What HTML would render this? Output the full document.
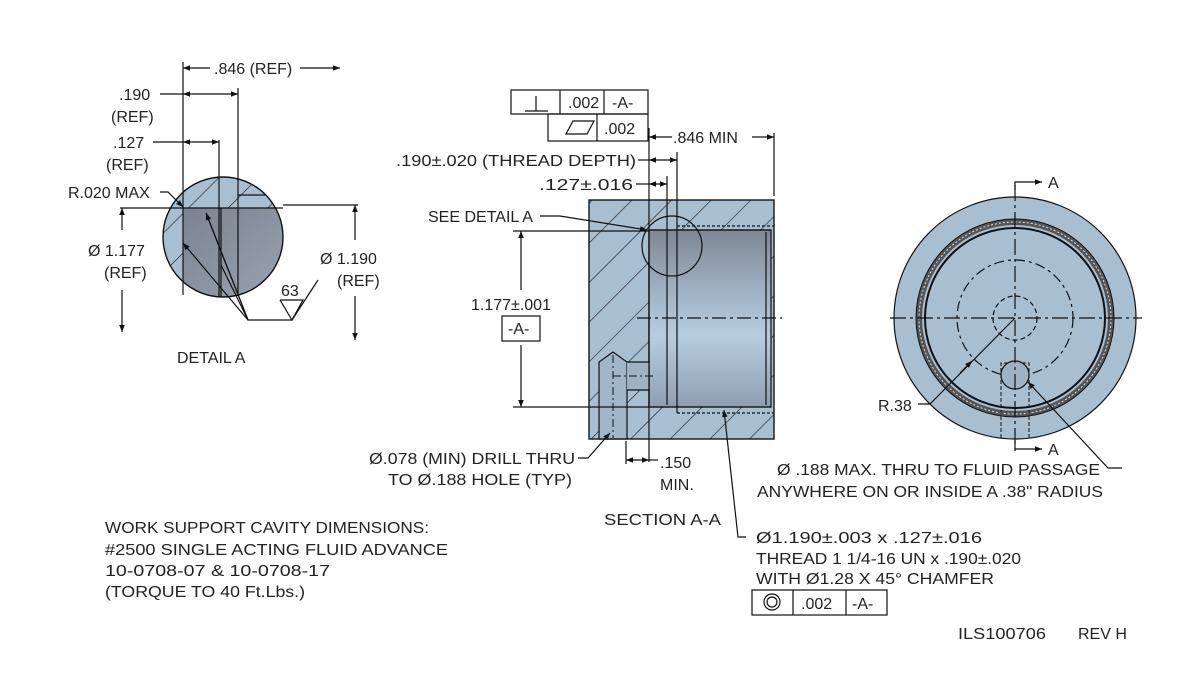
<!DOCTYPE html>
<html><head><meta charset="utf-8"><style>
html,body{margin:0;padding:0;background:#fff;}
svg{display:block;}
text{font-family:"Liberation Sans",sans-serif;font-size:16px;fill:#222;}
</style></head><body>
<svg width="1200" height="694" viewBox="0 0 1200 694" xmlns="http://www.w3.org/2000/svg">
<defs>
<marker id="ar" viewBox="0 0 10 10" refX="10" refY="5" markerWidth="9" markerHeight="7" orient="auto-start-reverse" markerUnits="userSpaceOnUse"><path d="M0,1 L10,5 L0,9 Z" fill="#111"/></marker>
<linearGradient id="bore" x1="0" y1="0" x2="0" y2="1">
<stop offset="0" stop-color="#7f8794"/><stop offset="0.35" stop-color="#a0b2c4"/><stop offset="0.6" stop-color="#b8cde0"/><stop offset="1" stop-color="#8e9eb0"/></linearGradient>
<linearGradient id="gray" x1="0" y1="0" x2="1" y2="1">
<stop offset="0" stop-color="#7c8290"/><stop offset="1" stop-color="#9aa6b4"/></linearGradient>
<pattern id="hatch" patternUnits="userSpaceOnUse" width="28" height="28" patternTransform="rotate(45)">
<rect width="28" height="28" fill="#a8bfd2"/><line x1="0" y1="0" x2="0" y2="28" stroke="#222" stroke-width="1.3"/></pattern>
<clipPath id="dc"><circle cx="223" cy="237" r="60"/></clipPath>
</defs>
<g stroke="#111" fill="none" stroke-width="1.2">

<!-- DETAIL A -->
<g clip-path="url(#dc)">
<rect x="160" y="175" width="130" height="125" fill="url(#hatch)" stroke="none"/>
<rect x="183" y="208" width="110" height="95" fill="url(#gray)" stroke="none"/>
</g>
<circle cx="223" cy="237" r="60" stroke-width="1.4"/>
<line x1="183" y1="208" x2="283" y2="208"/>
<line x1="183" y1="62" x2="183" y2="295"/>
<line x1="219" y1="140" x2="219" y2="297"/>
<line x1="221" y1="208" x2="221" y2="297"/>
<line x1="238" y1="88" x2="238" y2="295"/>
<line x1="238" y1="195" x2="265" y2="195"/>
<line x1="183" y1="68" x2="210" y2="68" marker-start="url(#ar)"/>
<line x1="300" y1="68" x2="340" y2="68" marker-end="url(#ar)"/>
<line x1="160" y1="94" x2="183" y2="94"/>
<line x1="183" y1="94" x2="238" y2="94" marker-start="url(#ar)" marker-end="url(#ar)"/>
<line x1="153" y1="142" x2="183" y2="142"/>
<line x1="183" y1="142" x2="219" y2="142" marker-start="url(#ar)" marker-end="url(#ar)"/>
<polyline points="160,192 168,192 183,207" marker-end="url(#ar)"/>
<line x1="120" y1="208" x2="183" y2="208"/>
<line x1="283" y1="205" x2="358" y2="205"/>
<line x1="122" y1="230" x2="122" y2="208" marker-end="url(#ar)"/>
<line x1="122" y1="290" x2="122" y2="332" marker-end="url(#ar)"/>
<line x1="355" y1="240" x2="355" y2="205" marker-end="url(#ar)"/>
<line x1="355" y1="296" x2="355" y2="340" marker-end="url(#ar)"/>
<polyline points="206,213 248,320 292,320 318,280"/>
<line x1="206" y1="213" x2="206" y2="213" />
<line x1="248" y1="320" x2="183" y2="243" marker-end="url(#ar)"/>
<line x1="248" y1="320" x2="206" y2="213" marker-end="url(#ar)"/>
<line x1="248" y1="320" x2="221" y2="265"/>
<polyline points="280,300 292,320 303,300 280,300"/>

<!-- SECTION -->
<rect x="589" y="200" width="185" height="239" fill="url(#hatch)"/>
<rect x="649" y="230" width="122" height="177" fill="url(#bore)"/>
<line x1="649" y1="230" x2="649" y2="407"/>
<line x1="667" y1="230" x2="667" y2="405"/>
<line x1="677" y1="226" x2="677" y2="413"/>
<line x1="766" y1="232" x2="766" y2="405"/>
<line x1="649" y1="230" x2="771" y2="230"/>
<line x1="649" y1="407" x2="771" y2="407"/>
<line x1="677" y1="226" x2="774" y2="226" stroke-dasharray="3,2"/>
<line x1="677" y1="413" x2="774" y2="413" stroke-dasharray="3,2"/>
<path d="M599,439 L599,362 L613,352 L627,362 L627,439 Z" fill="#a2b6c9"/>
<path d="M627,362 L649,362 L649,390 L627,390 Z" fill="#9fb2c4" stroke="none"/>
<line x1="627" y1="362" x2="649" y2="362"/>
<line x1="627" y1="390" x2="649" y2="390"/>
<line x1="613" y1="355" x2="613" y2="438" stroke-dasharray="8,3,2,3" stroke-width="1"/>
<line x1="613" y1="376" x2="655" y2="376" stroke-dasharray="8,3,2,3" stroke-width="1"/>
<rect x="589" y="200" width="185" height="239"/>
<circle cx="672" cy="246" r="30"/>
<line x1="637" y1="318" x2="782" y2="318" stroke-dasharray="14,4,3,4"/>
<line x1="649" y1="128" x2="649" y2="462"/>
<line x1="667" y1="176" x2="667" y2="230"/>
<line x1="677" y1="152" x2="677" y2="226"/>
<line x1="774" y1="133" x2="774" y2="196"/>
<line x1="649" y1="137" x2="672" y2="137" marker-start="url(#ar)"/>
<line x1="752" y1="137" x2="774" y2="137" marker-end="url(#ar)"/>
<line x1="638" y1="160" x2="649" y2="160"/>
<line x1="649" y1="160" x2="677" y2="160" marker-start="url(#ar)" marker-end="url(#ar)"/>
<line x1="636" y1="184" x2="649" y2="184"/>
<line x1="649" y1="184" x2="667" y2="184" marker-start="url(#ar)" marker-end="url(#ar)"/>
<polyline points="540,216 560,216 647,230" marker-end="url(#ar)"/>
<line x1="513" y1="231" x2="649" y2="231"/>
<line x1="513" y1="407" x2="649" y2="407"/>
<line x1="521" y1="290" x2="521" y2="231" marker-end="url(#ar)"/>
<line x1="521" y1="345" x2="521" y2="407" marker-end="url(#ar)"/>
<rect x="502" y="316" width="38" height="25"/>
<polyline points="578,458 588,458 610,433" marker-end="url(#ar)"/>
<line x1="626" y1="441" x2="626" y2="464"/>
<line x1="626" y1="460" x2="649" y2="460" marker-start="url(#ar)" marker-end="url(#ar)"/>
<line x1="649" y1="460" x2="658" y2="460"/>
<polyline points="746,537 738,537 724,410" marker-end="url(#ar)"/>
<!-- FCF top -->
<rect x="511" y="90" width="137" height="24"/>
<line x1="560" y1="90" x2="560" y2="114"/><line x1="604" y1="90" x2="604" y2="114"/>
<line x1="525" y1="111" x2="548" y2="111"/><line x1="536" y1="96" x2="536" y2="111"/>
<rect x="548" y="114" width="100" height="27"/>
<line x1="597" y1="114" x2="597" y2="141"/>
<polygon points="566,134 587,134 594,121 573,121"/>
<!-- FCF bottom -->
<rect x="752" y="590" width="135" height="25"/>
<line x1="793" y1="590" x2="793" y2="615"/><line x1="846" y1="590" x2="846" y2="615"/>
<circle cx="772" cy="602" r="8"/><circle cx="772" cy="602" r="5"/>

<!-- RIGHT VIEW -->
<circle cx="1015" cy="318" r="121" fill="#a8bfd2"/>
<circle cx="1015" cy="318" r="96" stroke="#555" stroke-width="6"/>
<circle cx="1015" cy="318" r="96" stroke="#ddd" stroke-width="1" stroke-dasharray="2,2"/>
<circle cx="1015" cy="318" r="99" stroke-width="1"/>
<circle cx="1015" cy="318" r="90" stroke-width="2"/>
<circle cx="1015" cy="318" r="58" stroke-dasharray="10,4,3,4"/>
<circle cx="1015" cy="318" r="22" stroke-dasharray="5,3"/>
<path d="M1001,438 L1001,363 L1029,363 L1029,438" stroke-dasharray="4,2" stroke-width="1"/>
<circle cx="1015" cy="375" r="14" fill="#9fb3c6"/>
<line x1="890" y1="318" x2="1142" y2="318" stroke-dasharray="16,4,3,4"/>
<line x1="1015" y1="185" x2="1015" y2="455" stroke-dasharray="16,4,3,4"/>
<polyline points="1015,190 1015,182 1042,182" marker-end="url(#ar)"/>
<polyline points="1015,440 1015,449 1042,449" marker-end="url(#ar)"/>
<polyline points="918,404 930,404 1015,318"/>
<line x1="960" y1="373" x2="972" y2="361" marker-end="url(#ar)"/>
<polyline points="1122,468 1108,468 1028,382" marker-end="url(#ar)"/>
</g>

<g>
<text x="214" y="74">.846 (REF)</text>
<text x="119" y="100">.190</text><text x="111" y="122">(REF)</text>
<text x="113" y="148">.127</text><text x="106" y="170">(REF)</text>
<text x="68" y="198">R.020 MAX</text>
<text x="88" y="256">Ø 1.177</text><text x="104" y="278">(REF)</text>
<text x="320" y="264">Ø 1.190</text><text x="337" y="286">(REF)</text>
<text x="281" y="296">63</text>
<text x="177" y="363">DETAIL A</text>
<text x="568" y="108">.002</text><text x="612" y="108">-A-</text>
<text x="604" y="134">.002</text>
<text x="673" y="143">.846 MIN</text>
<text x="396" y="166" textLength="240" lengthAdjust="spacingAndGlyphs">.190±.020 (THREAD DEPTH)</text>
<text x="539" y="190" textLength="94" lengthAdjust="spacingAndGlyphs">.127±.016</text>
<text x="428" y="222">SEE DETAIL A</text>
<text x="471" y="310">1.177±.001</text>
<text x="508" y="334">-A-</text>
<text x="369" y="464" textLength="206" lengthAdjust="spacingAndGlyphs">Ø.078 (MIN) DRILL THRU</text>
<text x="388" y="485" textLength="184" lengthAdjust="spacingAndGlyphs">TO Ø.188 HOLE (TYP)</text>
<text x="660" y="468">.150</text><text x="660" y="490">MIN.</text>
<text x="604" y="525" textLength="117" lengthAdjust="spacingAndGlyphs">SECTION  A-A</text>
<text x="756" y="543" textLength="226" lengthAdjust="spacingAndGlyphs">Ø1.190±.003 x .127±.016</text>
<text x="756" y="564" textLength="265" lengthAdjust="spacingAndGlyphs">THREAD 1 1/4-16 UN x .190±.020</text>
<text x="756" y="584" textLength="238" lengthAdjust="spacingAndGlyphs">WITH Ø1.28 X 45° CHAMFER</text>
<text x="801" y="609">.002</text><text x="852" y="609">-A-</text>
<text x="1048" y="188">A</text><text x="1048" y="455">A</text>
<text x="878" y="411">R.38</text>
<text x="777" y="475" textLength="323" lengthAdjust="spacingAndGlyphs">Ø .188 MAX. THRU TO FLUID PASSAGE</text>
<text x="757" y="497" textLength="346" lengthAdjust="spacingAndGlyphs">ANYWHERE ON OR INSIDE A .38" RADIUS</text>
<text x="105" y="533" textLength="324" lengthAdjust="spacingAndGlyphs">WORK SUPPORT CAVITY DIMENSIONS:</text>
<text x="105" y="555" textLength="343" lengthAdjust="spacingAndGlyphs">#2500 SINGLE ACTING FLUID ADVANCE</text>
<text x="105" y="576" textLength="225" lengthAdjust="spacingAndGlyphs">10-0708-07 &amp; 10-0708-17</text>
<text x="105" y="597" textLength="200" lengthAdjust="spacingAndGlyphs">(TORQUE TO 40 Ft.Lbs.)</text>
<text x="958" y="639" textLength="88" lengthAdjust="spacingAndGlyphs">ILS100706</text>
<text x="1078" y="639">REV H</text>
</g>
</svg>
</body></html>
